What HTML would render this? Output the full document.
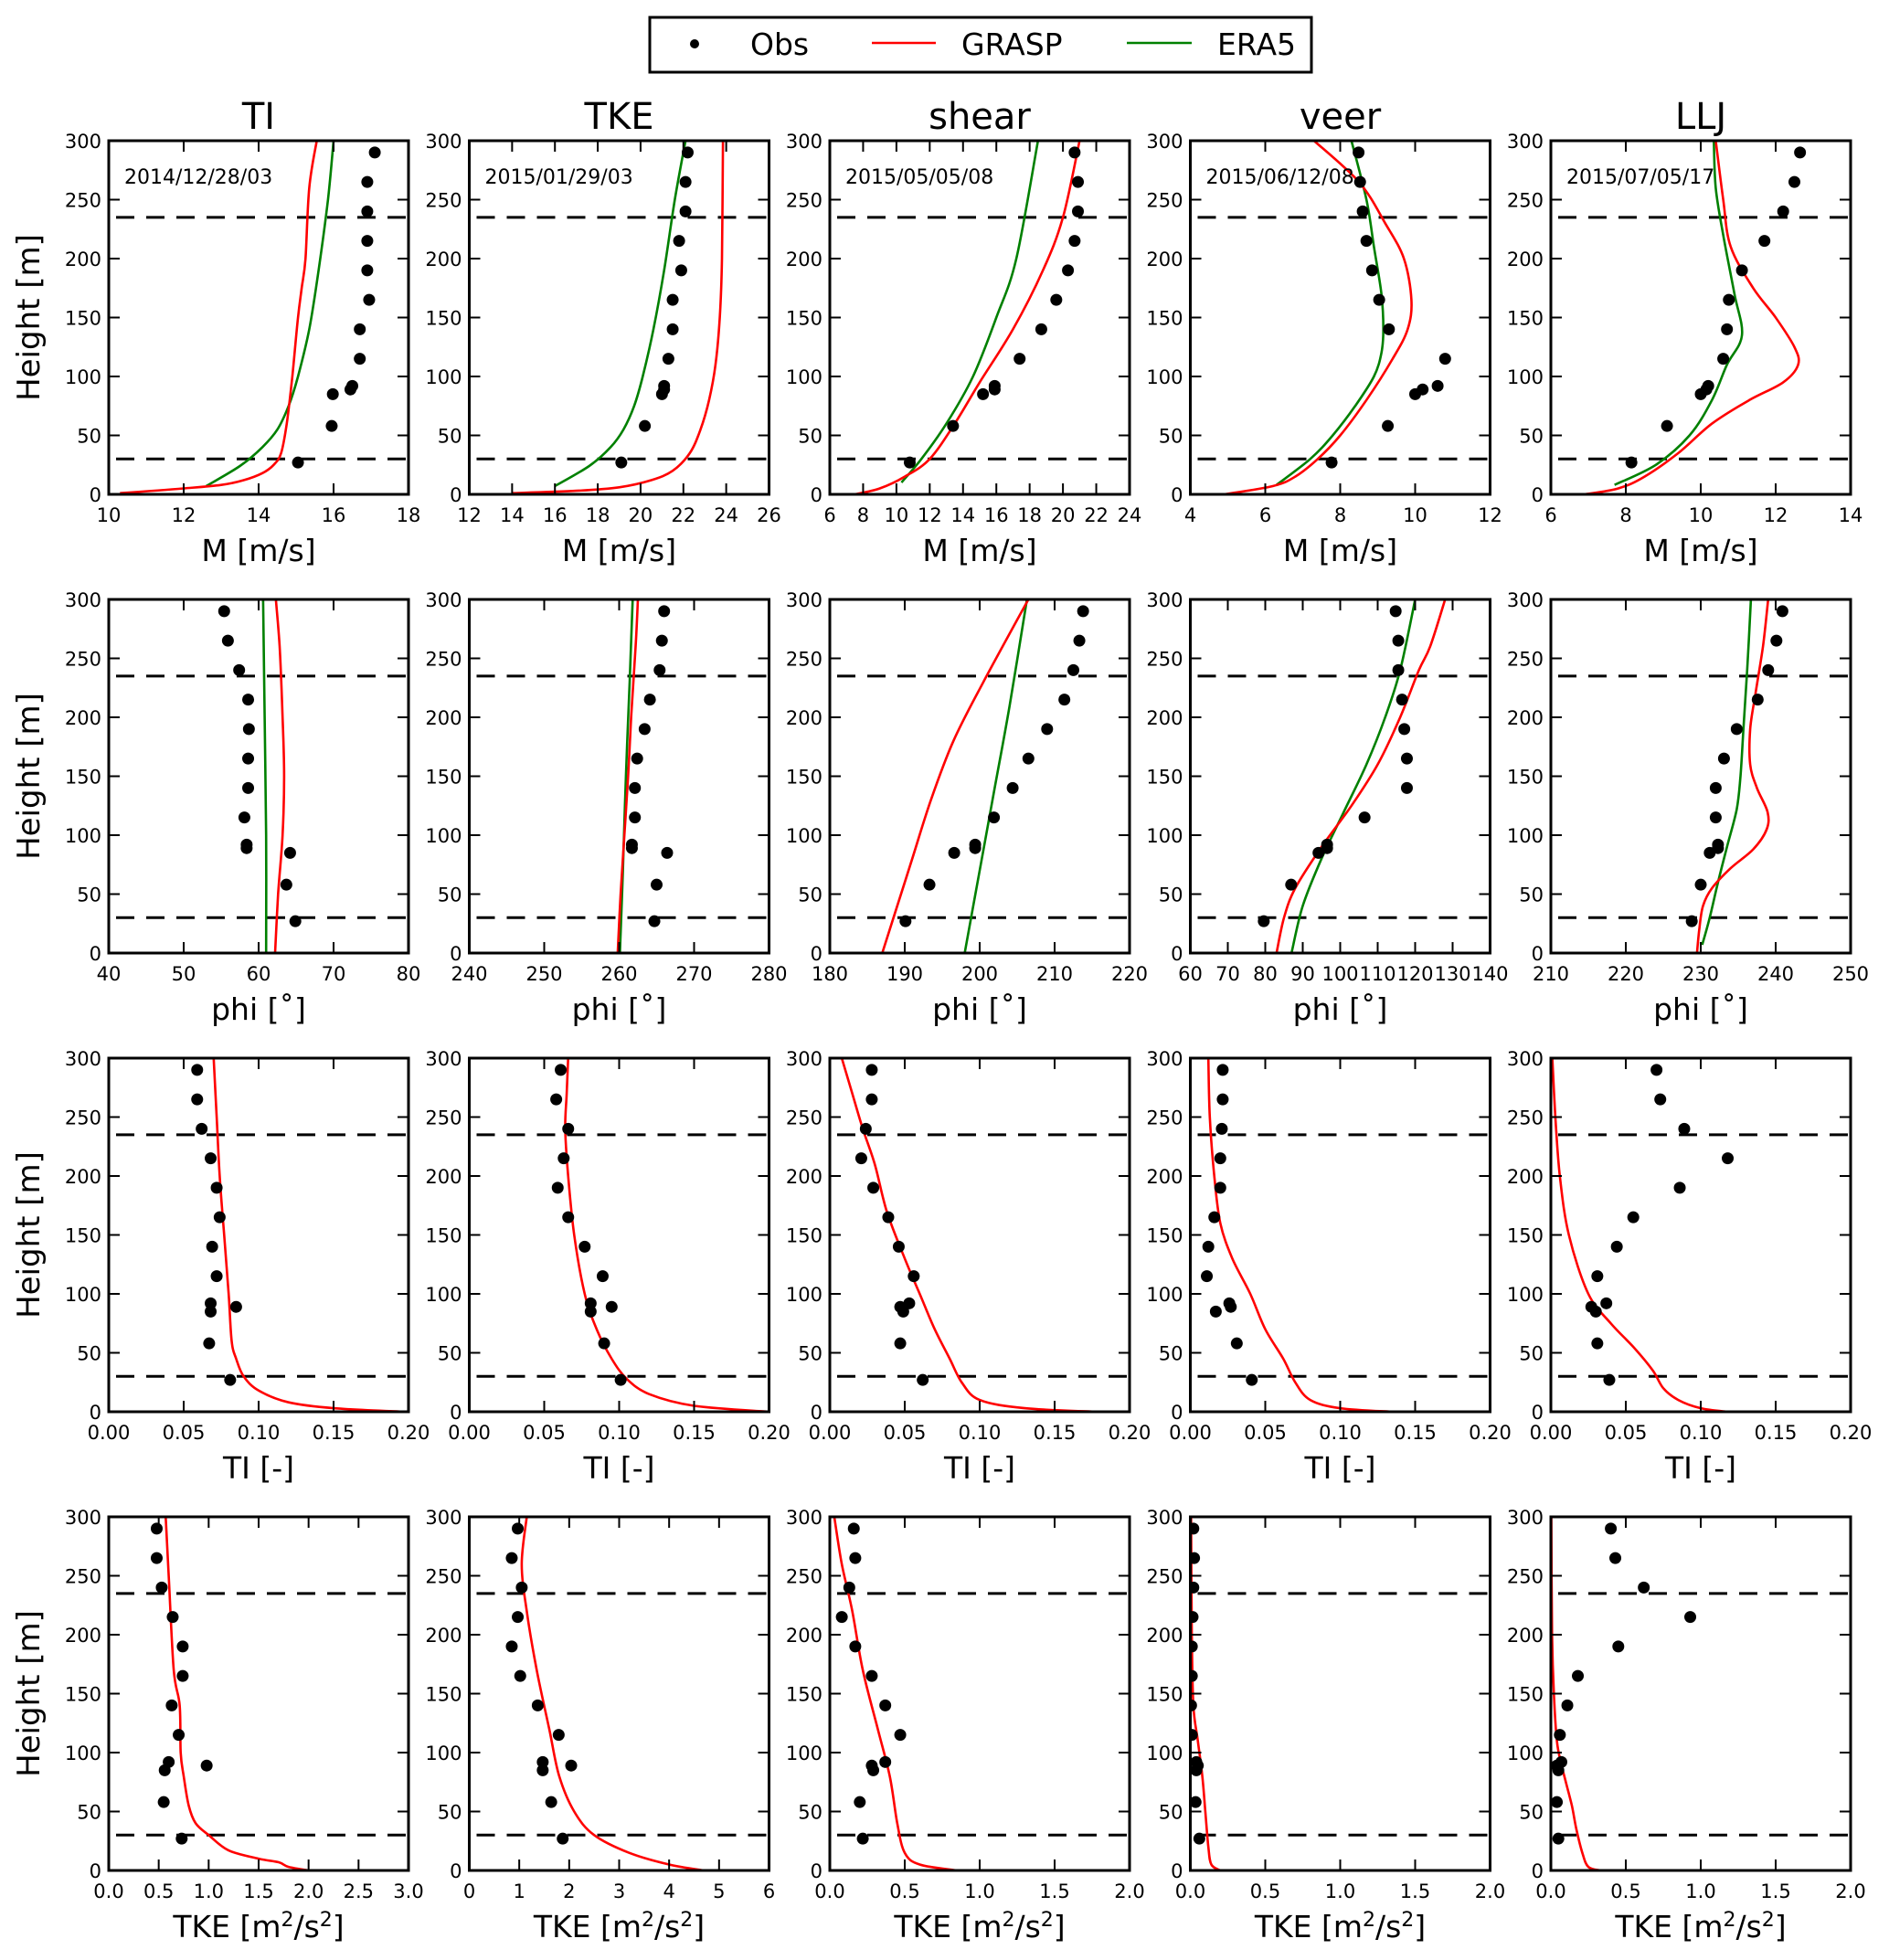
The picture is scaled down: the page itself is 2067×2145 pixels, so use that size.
<!DOCTYPE html>
<html><head><meta charset="utf-8"><style>
html,body{margin:0;padding:0;background:#fff;}
svg{display:block;font-family:"DejaVu Sans","Liberation Sans",sans-serif;}
</style></head><body>
<svg id="fig" width="2067" height="2145" viewBox="0 0 2067 2145" xmlns="http://www.w3.org/2000/svg">
<g>
<rect x="711" y="19" width="724" height="60" fill="#fff" stroke="#000" stroke-width="3"/>
<circle cx="760" cy="48" r="5" fill="#000"/>
<text x="821" y="60" font-size="33">Obs</text>
<line x1="954" y1="47" x2="1024" y2="47" stroke="red" stroke-width="2.5"/>
<text x="1052" y="60" font-size="33">GRASP</text>
<line x1="1233" y1="47" x2="1304" y2="47" stroke="green" stroke-width="2.5"/>
<text x="1332" y="60" font-size="33">ERA5</text>
</g>
</svg>
<script>
// Observation heights (shared)
const obsH = [27,58,85,89,92,115,140,165,190,215,240,265,290];
const colTitles = ["TI","TKE","shear","veer","LLJ"];
const dates = ["2014/12/28/03","2015/01/29/03","2015/05/05/08","2015/06/12/08","2015/07/05/17"];
const rowLabels = ["M [m/s]","phi [˚]","TI [-]","TKE"];
const yTicks = [0,50,100,150,200,250,300];
const dashH = [30,235];

// x-axis ranges and ticks
const xRange = [
 [[10,18],[12,26],[6,24],[4,12],[6,14]],
 [[40,80],[240,280],[180,220],[60,140],[210,250]],
 [[0,0.2],[0,0.2],[0,0.2],[0,0.2],[0,0.2]],
 [[0,3],[0,6],[0,2],[0,2],[0,2]]
];
const xStep = [
 [2,2,2,2,2],[10,10,10,10,10],[0.05,0.05,0.05,0.05,0.05],[0.5,1,0.5,0.5,0.5]
];
const xDec = [[0,0,0,0,0],[0,0,0,0,0],[2,2,2,2,2],[1,0,1,1,1]];

// Obs values [row][col]
const obsX = [
 [[15.05,15.95,15.98,16.45,16.5,16.7,16.7,16.95,16.9,16.9,16.9,16.9,17.1],
  [19.1,20.2,21.0,21.1,21.1,21.3,21.5,21.5,21.9,21.8,22.1,22.1,22.2],
  [10.8,13.4,15.2,15.9,15.9,17.4,18.7,19.6,20.3,20.7,20.9,20.9,20.7],
  [7.77,9.27,10.0,10.2,10.6,10.8,9.3,9.04,8.85,8.7,8.6,8.53,8.49],
  [8.15,9.1,10.0,10.15,10.2,10.6,10.7,10.75,11.1,11.7,12.2,12.5,12.65]],
 [[64.9,63.7,64.2,58.4,58.4,58.1,58.6,58.6,58.7,58.6,57.4,55.9,55.4],
  [264.7,265.0,266.4,261.7,261.7,262.1,262.1,262.4,263.4,264.1,265.4,265.7,266.0],
  [190.1,193.3,196.6,199.4,199.4,201.9,204.4,206.5,209.0,211.3,212.5,213.3,213.8],
  [79.6,86.9,94.2,96.5,96.5,106.5,117.8,117.8,117.1,116.5,115.5,115.5,114.8],
  [228.8,230.0,231.2,232.3,232.3,232.0,232.0,233.1,234.8,237.6,239.0,240.1,240.9]],
 [[0.081,0.067,0.068,0.085,0.068,0.072,0.069,0.074,0.072,0.068,0.062,0.059,0.059],
  [0.101,0.090,0.081,0.095,0.081,0.089,0.077,0.066,0.059,0.063,0.066,0.058,0.061],
  [0.062,0.047,0.049,0.047,0.053,0.056,0.046,0.039,0.029,0.021,0.024,0.028,0.028],
  [0.041,0.031,0.017,0.027,0.026,0.011,0.012,0.016,0.020,0.020,0.021,0.0216,0.0216],
  [0.039,0.031,0.030,0.027,0.037,0.031,0.044,0.055,0.086,0.118,0.089,0.073,0.0705]],
 [[0.73,0.55,0.56,0.98,0.6,0.7,0.63,0.74,0.74,0.64,0.53,0.48,0.48],
  [1.87,1.64,1.47,2.04,1.47,1.79,1.37,1.02,0.85,0.97,1.05,0.85,0.97],
  [0.22,0.20,0.29,0.28,0.37,0.47,0.37,0.28,0.17,0.08,0.13,0.17,0.16],
  [0.06,0.035,0.04,0.05,0.04,0.01,0.005,0.01,0.01,0.015,0.02,0.025,0.02],
  [0.05,0.04,0.05,0.04,0.07,0.06,0.11,0.18,0.45,0.93,0.62,0.43,0.40]]
];

// GRASP profiles: x values and heights
const graspX = [
 [[10.3,12,13,13.6,14.1,14.4,14.6,14.75,14.9,15.05,15.15,15.25,15.35,15.55],
  [14,17,19,20.5,21.5,22.3,22.8,23.2,23.5,23.7,23.8,23.85],
  [7.5,9,10.5,12,13.5,15,17,18.8,20,21],
  [4.9,6.2,6.8,7.4,8.0,8.7,9.4,9.8,9.9,9.7,9.2,8.5,7.3],
  [6.9,7.8,8.5,9.4,10.3,11.3,12.2,12.6,12.5,12.0,11.4,10.8,10.6,10.4]],
 [[62.2,62.6,63.2,63.4,63.2,62.8,62.3],
  [259.8,260.2,260.7,261.2,261.6,262.2,262.5],
  [187,188.5,191,193.5,196.5,200.5,206.5],
  [83,85,88,95,103,110,116,121,124,128],
  [229.5,229.8,230.3,231.5,234,237,238.8,238.9,237.5,236.6,236.6,237.3,238.3,239]],
 [[0.197,0.15,0.12,0.1,0.09,0.085,0.082,0.08,0.077,0.074,0.072,0.07],
  [0.2,0.15,0.12,0.105,0.095,0.085,0.077,0.07,0.066,0.064,0.065,0.066],
  [0.178,0.13,0.1,0.088,0.08,0.07,0.06,0.05,0.038,0.03,0.022,0.015,0.008],
  [0.135,0.1,0.08,0.07,0.062,0.05,0.04,0.028,0.02,0.016,0.013,0.012],
  [0.118,0.1,0.085,0.075,0.068,0.055,0.04,0.025,0.012,0.006,0.003,0.001]],
 [[2.0,1.8,1.7,1.5,1.2,1.0,0.87,0.8,0.75,0.72,0.71,0.65,0.6,0.57],
  [4.7,4,3.2,2.5,2.1,1.8,1.6,1.35,1.15,1.05,1.15],
  [0.85,0.6,0.5,0.45,0.4,0.32,0.22,0.15,0.08,0.03],
  [0.2,0.14,0.12,0.1,0.08,0.05,0.02,0.01,0.005],
  [0.33,0.25,0.21,0.17,0.14,0.1,0.07,0.04,0.02,0.008,0.003]]
];
const graspH = [
 [[1,5,8,12,18,25,35,60,100,150,175,200,260,300],
  [1,3,6,12,20,35,55,80,110,150,200,300],
  [0,5,15,30,60,95,140,190,235,300],
  [0,7,15,30,50,80,115,140,165,200,230,265,300],
  [0,5,15,35,60,80,95,110,125,150,175,210,250,300]],
 [[0,50,100,150,200,260,300],
  [0,50,100,150,200,260,300],
  [0,30,80,130,180,230,300],
  [0,30,55,90,125,160,200,240,260,300],
  [0,20,40,55,72,88,105,120,140,160,190,220,260,300]],
 [[0,3,8,18,30,45,60,100,150,200,250,300],
  [0,5,15,28,45,70,100,150,200,240,270,300],
  [0,3,10,25,45,70,100,130,170,210,240,270,300],
  [0,3,10,25,45,70,100,130,160,200,250,300],
  [0,3,10,20,35,55,75,100,150,200,250,300]],
 [[0,3,7,10,17,30,40,55,80,100,140,170,250,300],
  [0,5,15,30,50,80,120,170,220,260,300],
  [0,5,15,40,80,120,170,220,260,300],
  [0,5,20,50,80,110,140,200,300],
  [0,3,15,35,55,75,90,110,150,200,300]]
];

// ERA5 profiles (rows 0 and 1 only)
const eraX = [
 [[12.6,13.5,14.1,14.5,14.8,15.05,15.35,15.6,15.85,16.0],
  [16,17.6,18.6,19.2,19.7,20.1,20.6,21.1,21.6,22.1],
  [10.3,11.5,13,14.6,16,17.2,18.5],
  [6.3,7.2,7.8,8.4,8.9,9.1,9.15,9.1,8.9,8.7,8.3],
  [7.7,8.8,9.7,10.3,10.7,11.1,10.9,10.6,10.4,10.35]],
 [[61,61,60.8,60.6],
  [260.1,260.5,260.9,261.4,261.8],
  [198,200,202,204,206.3],
  [87,90,95,101,107,112,116,120],
  [230.2,231.2,232.3,233.5,234.8,235.3,235.7,236.2,236.7]]
];
const eraH = [
 [[7,24,40,55,75,100,140,190,250,300],
  [7,24,40,55,75,100,140,190,250,300],
  [10,30,60,100,150,200,300],
  [8,30,50,75,100,120,140,170,210,250,300],
  [8,25,50,80,110,135,170,220,260,300]],
 [[0,100,200,300],
  [0,70,150,230,300],
  [0,70,140,210,300],
  [0,40,80,120,160,200,240,300],
  [7,30,60,90,122,150,190,240,300]]
];

const NS = "http://www.w3.org/2000/svg";
const svg = document.getElementById("fig");
const colLeft = [119,513.5,908,1302.5,1697];
const rowTop = [154,656,1158,1660];
const PW = 328, PH = 387;
function mk(tag, attrs, parent){
  const e = document.createElementNS(NS, tag);
  for (const k in attrs) e.setAttribute(k, attrs[k]);
  (parent||svg).appendChild(e);
  return e;
}
function smoothPath(pts){
  if (pts.length < 3) return "M" + pts.map(p=>p[0].toFixed(1)+","+p[1].toFixed(1)).join(" L");
  let d = "M" + pts[0][0].toFixed(1) + "," + pts[0][1].toFixed(1);
  for (let i=0;i<pts.length-1;i++){
    const p0 = pts[Math.max(0,i-1)], p1 = pts[i], p2 = pts[i+1], p3 = pts[Math.min(pts.length-1,i+2)];
    const c1 = [p1[0]+(p2[0]-p0[0])/6, p1[1]+(p2[1]-p0[1])/6];
    const c2 = [p2[0]-(p3[0]-p1[0])/6, p2[1]-(p3[1]-p1[1])/6];
    d += " C"+c1[0].toFixed(1)+","+c1[1].toFixed(1)+" "+c2[0].toFixed(1)+","+c2[1].toFixed(1)+" "+p2[0].toFixed(1)+","+p2[1].toFixed(1);
  }
  return d;
}

for (let r=0;r<4;r++){
  for (let c=0;c<5;c++){
    const L = colLeft[c], T = rowTop[r], B = T+PH, R = L+PW;
    const [x0,x1] = xRange[r][c];
    const xs = v => L + (v-x0)/(x1-x0)*PW;
    const ys = v => B - v/300*PH;
    const g = mk("g", {});
    
    
    const clipId = "clip"+r+"_"+c;
    const cp = mk("clipPath", {id:clipId}, g);
    mk("rect", {x:L, y:T, width:PW, height:PH}, cp);
    const data = mk("g", {"clip-path":"url(#"+clipId+")"}, g);
    // dashed lines
    dashH.forEach((h,i)=>{
      const ln = mk("line", {x1:L+8, x2:R, y1:ys(h), y2:ys(h), stroke:"#000","stroke-width":3,"stroke-dasharray":"20,13"}, data);
      
      
    });
    // ERA5
    if (r<2){
      const pts = eraX[r][c].map((v,i)=>[xs(v), ys(eraH[r][c][i])]);
      const p = mk("path", {d:smoothPath(pts), fill:"none", stroke:"green","stroke-width":2.6}, data);
      
      
    }
    // GRASP
    {
      const pts = graspX[r][c].map((v,i)=>[xs(v), ys(graspH[r][c][i])]);
      const p = mk("path", {d:smoothPath(pts), fill:"none", stroke:"red","stroke-width":2.6}, data);
      
      
    }
    // Obs
    obsX[r][c].forEach((v,i)=>{
      const d = mk("circle", {cx:xs(v), cy:ys(obsH[i]), r:6.5, fill:"#000"}, data);
      
      
    });
    // frame
    const fr = mk("rect", {x:L, y:T, width:PW, height:PH, fill:"none", stroke:"#000","stroke-width":3}, g);
    
    
    // y ticks
    yTicks.forEach(t=>{
      const y = ys(t);
      mk("line", {x1:L, x2:L+12, y1:y, y2:y, stroke:"#000","stroke-width":2}, g);
      mk("line", {x1:R-12, x2:R, y1:y, y2:y, stroke:"#000","stroke-width":2}, g);
      const tl = mk("text", {x:L-8, y:y+8, "font-size":21, "text-anchor":"end"}, g);
      tl.textContent = t;
      
      
    });
    // x ticks
    const st = xStep[r][c];
    const n = Math.round((x1-x0)/st);
    for (let k=0;k<=n;k++){
      const v = x0 + k*st, x = xs(v);
      mk("line", {x1:x, x2:x, y1:B, y2:B-12, stroke:"#000","stroke-width":2}, g);
      mk("line", {x1:x, x2:x, y1:T, y2:T+12, stroke:"#000","stroke-width":2}, g);
      const tl = mk("text", {x:x, y:B+30, "font-size":21, "text-anchor":"middle"}, g);
      tl.textContent = v.toFixed(xDec[r][c]);
      
      
    }
    // x label
    const xl = mk("text", {x:L+PW/2, y:B+73, "font-size":33, "text-anchor":"middle"}, g);
    if (r===3){ xl.innerHTML = 'TKE [m<tspan font-size="22" dy="-12">2</tspan><tspan dy="12">/s</tspan><tspan font-size="22" dy="-12">2</tspan><tspan dy="12">]</tspan>'; }
    else xl.textContent = rowLabels[r];
    
    
    if (c===0){
      const yl = mk("text", {x:0, y:0, "font-size":34, "text-anchor":"middle", transform:"translate(43,"+(T+PH/2)+") rotate(-90)"}, g);
      yl.textContent = "Height [m]";
      
      
    }
    if (r===0){
      const tt = mk("text", {x:L+PW/2, y:T-13, "font-size":40, "text-anchor":"middle"}, g);
      tt.textContent = colTitles[c];
      
      
      const dt = mk("text", {x:L+17, y:T+47, "font-size":22}, g);
      dt.textContent = dates[c];
      
      
    }
  }
}
</script>
</body></html>
